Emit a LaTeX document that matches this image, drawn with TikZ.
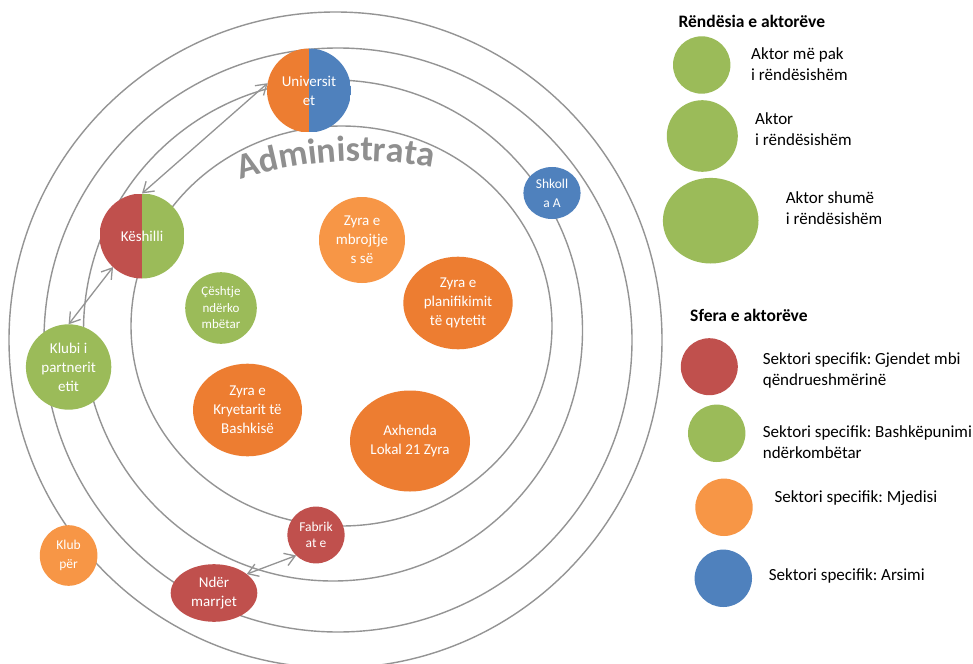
\documentclass[tikz,border=0pt]{standalone}
\usepackage{fontspec}
\setmainfont{Carlito}
\usetikzlibrary{shapes.geometric,arrows.meta,decorations.text}
\definecolor{ored}{HTML}{C0504D}
\definecolor{ogreen}{HTML}{9BBB59}
\definecolor{oorange}{HTML}{ED7D31}
\definecolor{olight}{HTML}{F79646}
\definecolor{oblue}{HTML}{4F81BD}
\definecolor{ringgray}{HTML}{949494}
\definecolor{admgray}{HTML}{8F8F8F}
\frenchspacing
\begin{document}
\begin{tikzpicture}[x=1pt,y=-1pt,
  ringline/.style={draw=ringgray, line width=1.4pt},
  actor/.style={ellipse, inner sep=0pt, outer sep=0pt, text=white, align=center, font=\fontsize{15}{19}\selectfont},
  smallactor/.style={actor, font=\fontsize{13.5}{17}\selectfont},
  link/.style={draw=ringgray, line width=1.3pt, {Straight Barb[length=10pt,width=13pt]}-{Straight Barb[length=10pt,width=13pt]}},
  legtext/.style={anchor=base west, align=left, text=black, font=\fontsize{17}{21}\selectfont},
  legtitle/.style={anchor=base west, text=black, font=\fontsize{17.5}{21}\selectfont\bfseries},
  legdot/.style={ellipse, inner sep=0pt, outer sep=0pt}
]
\useasboundingbox (0,0) rectangle (973,663);
\fill[white] (0,0) rectangle (973,663);

% rings
\draw[ringline] (341.5,326) ellipse [x radius=210.5pt, y radius=200pt];
\draw[ringline] (333,330.5) ellipse [x radius=249.5pt, y radius=250.5pt];
\draw[ringline] (338,340) ellipse [x radius=294pt, y radius=292pt];
\draw[ringline] (335.5,340) ellipse [x radius=326.5pt, y radius=328pt];

% curved title
\path[decorate, decoration={text along path, text align=center,
  text={|\fontsize{36}{36}\selectfont\bfseries\color{admgray}|Administrata}}]
  (172.5,208.6) .. controls (274.6,153.2) and (395.9,145.8) .. (504.0,188.4);

% actors
\node[actor, minimum width=84pt, minimum height=84pt,
  path picture={\fill[oorange] (path picture bounding box.north west) rectangle (path picture bounding box.south);
                \fill[oblue] (path picture bounding box.north) rectangle (path picture bounding box.south east);}]
  (uni) at (309,90.5) {Universit\\et};
\node[actor, minimum width=85pt, minimum height=85pt,
  path picture={\fill[ored] (path picture bounding box.north west) rectangle (path picture bounding box.south);
                \fill[ogreen] (path picture bounding box.north) rectangle (path picture bounding box.south east);}]
  (kes) at (142,236) {Këshilli};
\node[actor, fill=ogreen, minimum width=85.4pt, minimum height=85.4pt] (klubi) at (68.6,367) {Klubi i\\partnerit\\etit};
\node[smallactor, fill=ogreen, minimum width=71.6pt, minimum height=71.6pt, font=\fontsize{13}{16.5}\selectfont] (cesh) at (221,308) {Çështje\\ndërko\\mbëtar};
\node[actor, fill=olight, minimum width=86pt, minimum height=86pt] (mbr) at (362,240) {Zyra e\\mbrojtje\\s së};
\node[actor, fill=oorange, minimum width=109.4pt, minimum height=92.6pt] (plan) at (458,303) {Zyra e\\planifikimit\\të qytetit};
\node[actor, fill=oorange, minimum width=109pt, minimum height=92.6pt] (krye) at (247.5,410) {Zyra e\\Kryetarit të\\Bashkisë};
\node[actor, fill=oorange, minimum width=120pt, minimum height=101pt] (axh) at (410,441) {Axhenda\\Lokal 21 Zyra};
\node[smallactor, fill=oblue, minimum width=57.2pt, minimum height=52pt, font=\fontsize{13.5}{19}\selectfont] (shk) at (552,193) {Shkoll\\a A};
\node[smallactor, fill=ored, minimum width=57.2pt, minimum height=56.8pt, font=\fontsize{13.5}{16}\selectfont] (fab) at (316,535) {Fabrik\\at e};
\node[actor, fill=ored, minimum width=86.6pt, minimum height=57.6pt] (ndr) at (214,593) {Ndër\\marrjet};
\node[smallactor, fill=olight, minimum width=57.6pt, minimum height=60.6pt, font=\fontsize{13.5}{19}\selectfont] (klubper) at (68.6,555.5) {Klub\\për};

% connectors
\draw[link] (kes.north) -- (uni.170);
\draw[link] (klubi.north) -- (kes.227);
\draw[link] (ndr.30) -- (fab.226);

% legend: importance
\node[legtitle] (t1) at (675,27.7) {Rëndësia e aktorëve};
\node[legdot, fill=ogreen, minimum width=57.4pt, minimum height=57.4pt] (s1) at (701.7,65) {};
\node[legtext] (s1t) at (747.7,81) {Aktor më pak\\i rëndësishëm};
\node[legdot, fill=ogreen, minimum width=71pt, minimum height=71.6pt] (s2) at (702.3,136) {};
\node[legtext] (s2t) at (751.7,146) {Aktor\\i rëndësishëm};
\node[legdot, fill=ogreen, minimum width=95.6pt, minimum height=85.6pt] (s3) at (710.7,220.7) {};
\node[legtext] (s3t) at (782.3,224) {Aktor shumë\\i rëndësishëm};

% legend: sphere
\node[legtitle] (t2) at (686.7,321.7) {Sfera e aktorëve};
\node[legdot, fill=ored, minimum width=57pt, minimum height=57pt] (c1) at (709.3,366.7) {};
\node[legtext] (c1t) at (759.3,385) {Sektori specifik: Gjendet mbi\\qëndrueshmërinë};
\node[legdot, fill=ogreen, minimum width=57.4pt, minimum height=57.4pt] (c2) at (716.7,433.3) {};
\node[legtext] (c2t) at (759.3,458.3) {Sektori specifik: Bashkëpunimi\\ndërkombëtar};
\node[legdot, fill=olight, minimum width=57.4pt, minimum height=57.4pt] (c3) at (724,507.3) {};
\node[legtext] (c3t) at (771,502.3) {Sektori specifik: Mjedisi};
\node[legdot, fill=oblue, minimum width=57.4pt, minimum height=57.4pt] (c4) at (723.3,578.3) {};
\node[legtext] (c4t) at (765.3,580) {Sektori specifik: Arsimi};
\end{tikzpicture}
\end{document}
